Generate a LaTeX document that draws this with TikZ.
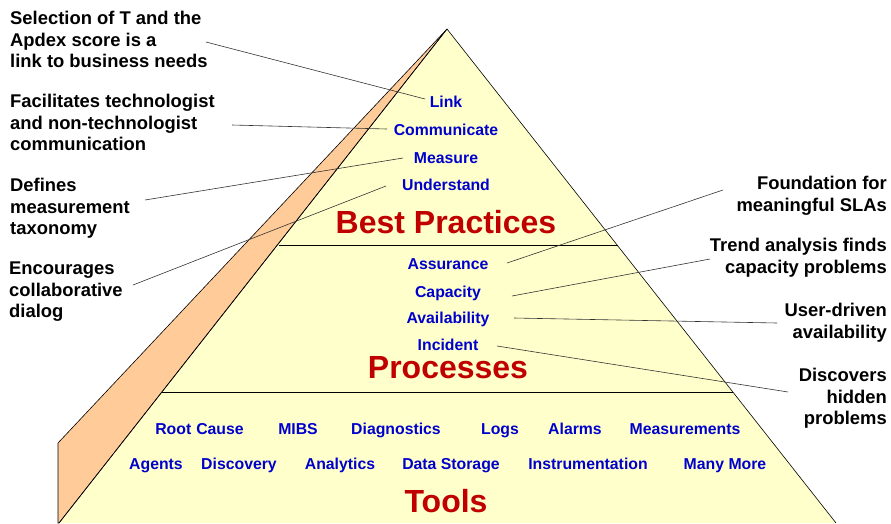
\documentclass[tikz,border=0pt]{standalone}
\usepackage{fontspec}
\setmainfont{Liberation Sans}
\definecolor{pyryellow}{RGB}{255,255,204}
\definecolor{pyrorange}{RGB}{255,204,153}
\definecolor{pyrblue}{RGB}{0,0,204}
\definecolor{pyrred}{RGB}{192,0,0}

\begin{document}
\begin{tikzpicture}[x=1pt, y=-1pt,
	note/.style={inner sep=0pt, font=\fontsize{18.4}{21.5}\selectfont\bfseries},
	item/.style={inner sep=0pt, anchor=base, text=pyrblue, font=\fontsize{15.8}{18}\selectfont\bfseries},
	layer/.style={inner sep=0pt, anchor=base, text=pyrred, font=\fontsize{32}{36}\selectfont\bfseries},
	leader/.style={draw=black!80, line width=0.6pt}]
\useasboundingbox (0,0) rectangle (891,523);

% pyramid
\fill[pyryellow] (447,29) -- (59,523) -- (836,523) -- cycle;
\filldraw[fill=pyrorange, draw=black, line width=0.6pt] (447,29) -- (58,443) -- (58,523) -- (59,523) -- cycle;
\draw[line width=0.6pt] (59,523) -- (447,29) -- (836,523);
\draw[line width=0.9pt] (279,245) -- (618,245);
\draw[line width=0.9pt] (162,392) -- (733,392);

% layers
\node[layer] at (446,233) (best) {Best Practices};
\node[layer] at (448,378) (proc) {Processes};
\node[layer] at (446,512) (tools) {Tools};

\foreach \n/\y/\txt in {link/107/Link, comm/135/Communicate, meas/163/Measure, und/190/Understand}
	\node[item] at (446,\y) (\n) {\txt};
\foreach \n/\y/\txt in {assur/269/Assurance, capa/297/Capacity, avail/323/Availability, inc/350/Incident}
	\node[item] at (448,\y) (\n) {\txt};
\foreach \x/\y/\txt [count=\i] in {199.5/434/Root\hspace{5pt}Cause, 298/434/MIBS, 396/434/Diagnostics, 500/434/Logs,
	575/434/Alarms, 685/434/Measurements, 156/469/Agents, 239/469/Discovery, 340/469/Analytics,
	451/469/Data Storage, 588/469/Instrumentation, 725/469/Many More}
	\node[item] at (\x,\y) (tool\i) {\txt};

% notes
\node[note, anchor=north west, align=left] at (10,11) (sel) {Selection of T and the\\Apdex score is a\\link to business needs};
\node[note, anchor=north west, align=left] at (10,94) (fac) {Facilitates technologist\\and non-technologist\\communication};
\node[note, anchor=north west, align=left] at (10,178) (def) {Defines\\measurement\\taxonomy};
\node[note, anchor=north west, align=left] at (9,262) (enc) {Encourages\\collaborative\\dialog};
\node[note, anchor=north east, align=right] at (887,176) (found) {Foundation for\\meaningful SLAs};
\node[note, anchor=north east, align=right] at (887,238) (trend) {Trend analysis finds\\capacity problems};
\node[note, anchor=north east, align=right] at (887,303) (user) {User-driven\\availability};
\node[note, anchor=north east, align=right] at (887,368) (disc) {Discovers\\hidden\\problems};

% leaders
\coordinate (sel-a) at (206,42);   \coordinate (link-a) at (425,99);
\coordinate (fac-a) at (232,125);  \coordinate (comm-a) at (387,129);
\coordinate (def-a) at (145,200);  \coordinate (meas-a) at (403,158);
\coordinate (enc-a) at (133,285);  \coordinate (und-a) at (386,186);
\coordinate (found-a) at (723,190); \coordinate (assur-a) at (507,263);
\coordinate (trend-a) at (710,259); \coordinate (capa-a) at (512,296);
\coordinate (user-a) at (777,323);  \coordinate (avail-a) at (514,318);
\coordinate (disc-a) at (788,392);  \coordinate (inc-a) at (497,346);
\foreach \a/\b in {sel/link, fac/comm, def/meas, enc/und, found/assur, trend/capa, user/avail, disc/inc}
	\draw[leader] (\a-a) -- (\b-a);

\end{tikzpicture}
\end{document}
